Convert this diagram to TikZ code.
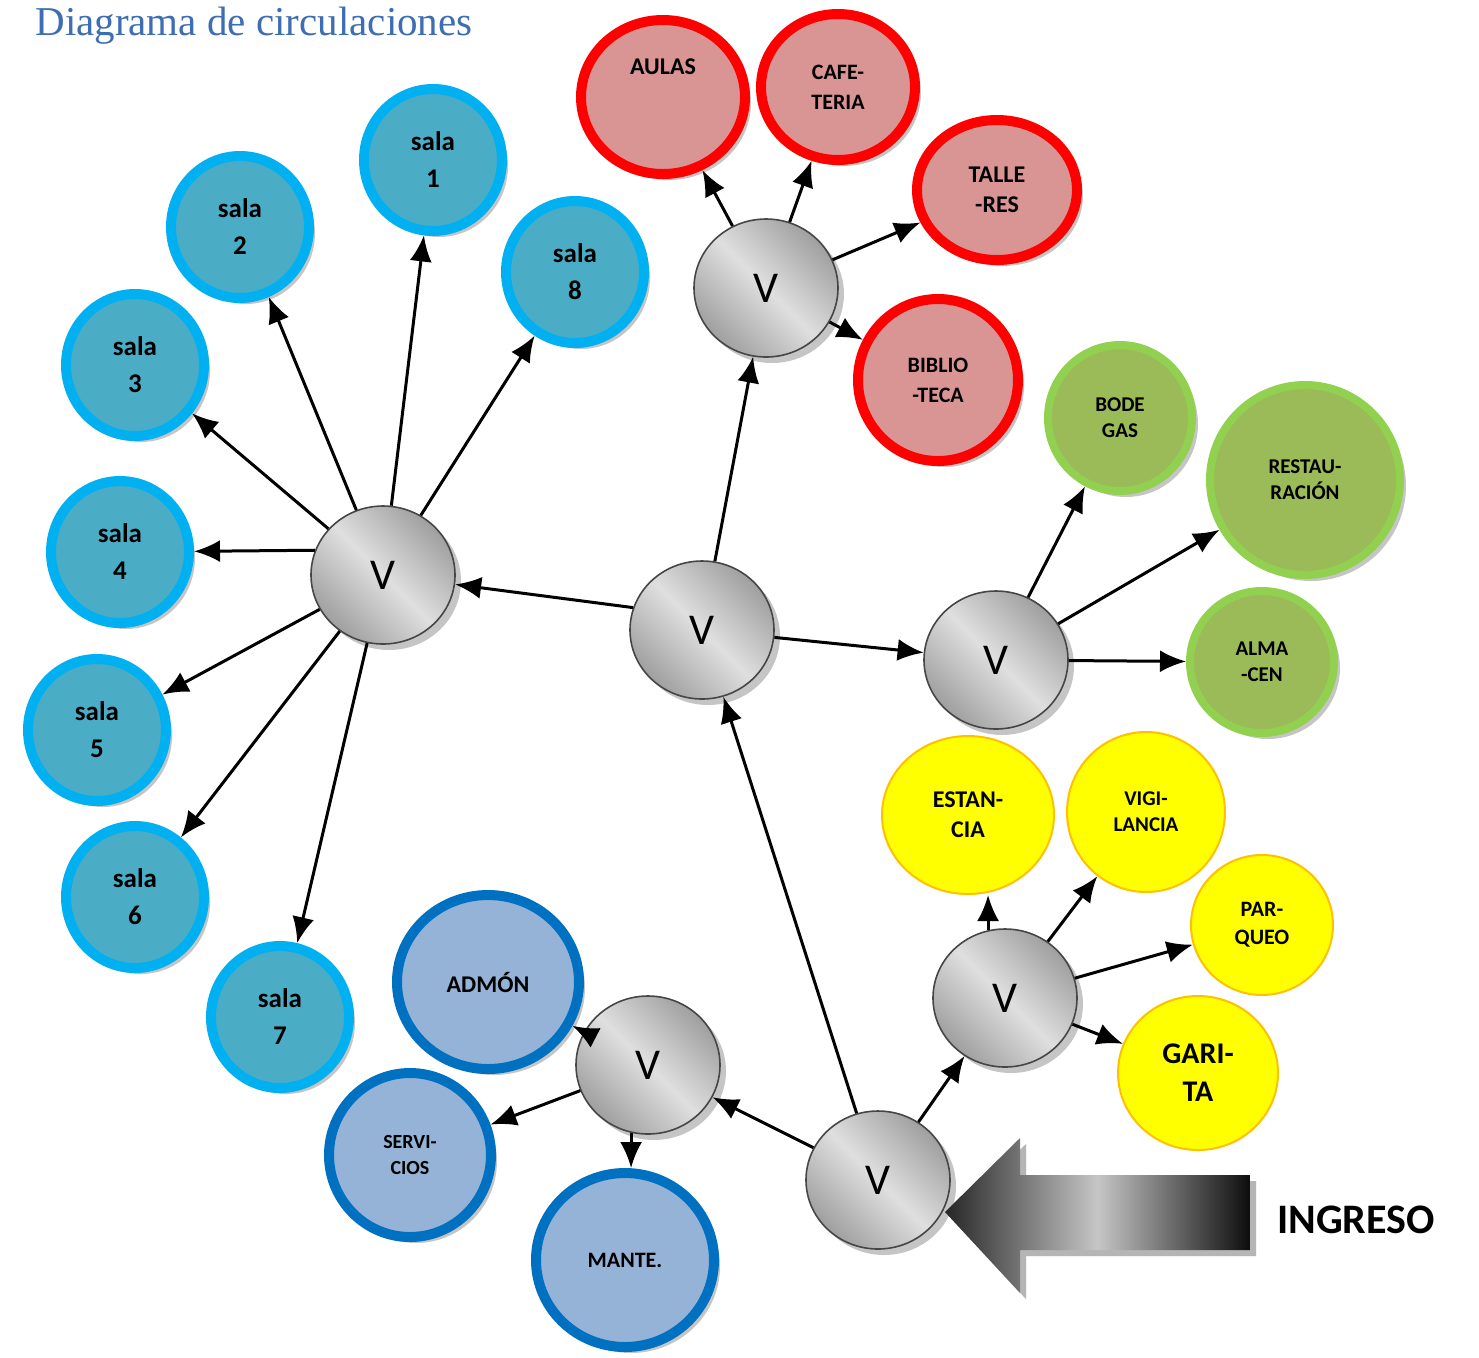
\documentclass[tikz,border=0pt]{standalone}
\usepackage{fontspec}
\setmainfont{Carlito}
\newfontfamily\titlefont{Liberation Serif}
\usetikzlibrary{arrows.meta,shapes.geometric,shadows}
\definecolor{salaFill}{HTML}{4BACC6}
\definecolor{salaLine}{HTML}{00B0F0}
\definecolor{aulaFill}{HTML}{D99594}
\definecolor{aulaLine}{HTML}{FF0000}
\definecolor{bodeFill}{HTML}{9BBB59}
\definecolor{bodeLine}{HTML}{92D050}
\definecolor{vigiFill}{HTML}{FFFF00}
\definecolor{vigiLine}{HTML}{FFC000}
\definecolor{admFill}{HTML}{95B3D7}
\definecolor{admLine}{HTML}{0070C0}
\definecolor{titleBlue}{HTML}{3D6DB3}

\begin{document}
\begin{tikzpicture}[
    x=0.5pt,y=-0.5pt,
    shade/.style={drop shadow={shadow xshift=3pt,shadow yshift=-3pt,fill=black!45}},
    hub/.style={ellipse,draw=gray!55!black,thick,
                top color=gray!75,bottom color=gray!75,middle color=gray!25,
                shading angle=-45,minimum width=72pt,minimum height=69pt,
                font=\fontsize{22}{24}\selectfont,shade},
    room/.style={ellipse,align=center,shade,
                 font=\fontsize{12}{15}\selectfont\bfseries},
    sala/.style={room,draw=salaLine,fill=salaFill,line width=5pt,
                 minimum width=69pt,minimum height=71pt,
                 font=\fontsize{13.5}{18.5}\selectfont\bfseries},
    aula/.style={room,draw=aulaLine,fill=aulaFill,line width=5pt},
    bode/.style={room,draw=bodeLine,fill=bodeFill,line width=4pt,
                 font=\fontsize{10.5}{13}\selectfont\bfseries},
    vigi/.style={ellipse,align=center,draw=vigiLine,fill=vigiFill,line width=1pt,
                 font=\fontsize{11}{14}\selectfont\bfseries},
    adm/.style={room,draw=admLine,fill=admFill,line width=5pt},
    flow/.style={-{Latex[length=13pt,width=11pt]},line width=1.5pt}
  ]
  \useasboundingbox (0,0) rectangle (1479,1357);
  %% Title
  \node[anchor=base west,text=titleBlue,inner sep=0pt,
        font=\titlefont\fontsize{20.5}{24}\selectfont] (title) at (35,35)
        {Diagrama de circulaciones};
  %% Salas
  \node[sala] (s1) at (433,160)  {sala\\1};
  \node[sala] (s2) at (240,227)  {sala\\2};
  \node[sala] (s3) at (135,365)  {sala\\3};
  \node[sala] (s4) at (120,552)  {sala\\4};
  \node[sala] (s5) at (97,730)   {sala\\5};
  \node[sala] (s6) at (135,897)  {sala\\6};
  \node[sala] (s7) at (280,1017) {sala\\7};
  \node[sala] (s8) at (575,272)  {sala\\8};
  %% Vestibulos
  \node[hub] (v1) at (383,575)  {V};
  \node[hub] (vc) at (702,630)  {V};
  \node[hub] (vt) at (766,288)  {V};
  \node[hub] (vr) at (996,660)  {V};
  \node[hub] (vy) at (1005,998) {V};
  \node[hub] (vb) at (878,1180) {V};
  \node[hub] (vl) at (648,1065) {V};
  %% Zona academica
  \node[aula,minimum width=82pt,minimum height=77pt] (aulas)  at (663,97)
        {AULAS\\\mbox{}\\\mbox{}};
  \node[aula,minimum width=77pt,minimum height=73pt,
        font=\fontsize{11}{15}\selectfont\bfseries] (cafe)   at (838,87)  {CAFE-\\TERIA};
  \node[aula,minimum width=80pt,minimum height=70pt] (taller) at (997,190) {TALLE\\-RES};
  \node[aula,minimum width=80pt,minimum height=81pt,
        font=\fontsize{11}{15}\selectfont\bfseries] (biblio) at (938,380) {BIBLIO\\-TECA};
  %% Servicios generales
  \node[bode,minimum width=72pt,minimum height=73pt] (bodegas) at (1120,418) {BODE\\GAS};
  \node[bode,minimum width=95pt,minimum height=95pt] (restau)  at (1305,480) {RESTAU-\\RACIÓN};
  \node[bode,minimum width=72pt,minimum height=71pt] (almacen) at (1262,662) {ALMA\\-CEN};
  %% Control
  \node[vigi,minimum width=86pt,minimum height=79pt,
        font=\fontsize{12}{15}\selectfont\bfseries] (estancia)   at (968,815)  {ESTAN-\\CIA};
  \node[vigi,minimum width=79pt,minimum height=80pt,
        font=\fontsize{10.5}{13}\selectfont\bfseries] (vigilancia) at (1146,812) {VIGI-\\LANCIA};
  \node[vigi,minimum width=71pt,minimum height=70pt] (parqueo)    at (1262,925) {PAR-\\QUEO};
  \node[vigi,minimum width=80pt,minimum height=77pt,
        font=\fontsize{15}{19}\selectfont\bfseries] (garita)     at (1198,1073) {GARI-\\TA};
  %% Administracion
  \node[adm,minimum width=91pt,minimum height=87pt] (admon)     at (488,982)  {ADMÓN};
  \node[adm,minimum width=81pt,minimum height=82pt,
        font=\fontsize{10}{13}\selectfont\bfseries] (servicios) at (410,1155) {SERVI-\\CIOS};
  \node[adm,minimum width=89pt,minimum height=87pt,
        font=\fontsize{11}{14}\selectfont\bfseries] (mante)     at (625,1260) {MANTE.};
  %% Ingreso
  \coordinate (tip) at (945,1212);
  \shade[left color=black!85,right color=black!95,middle color=gray!45,
         drop shadow={shadow xshift=3pt,shadow yshift=-3pt,fill=black!35}]
    (tip) -- (1020,1138) -- (1020,1175) -- (1250,1175)
    -- (1250,1250) -- (1020,1250) -- (1020,1293) -- cycle;
  \node[font=\fontsize{21}{24}\selectfont\bfseries] (ingreso) at (1356,1220) {INGRESO};
  %% Circulaciones principales
  \draw[flow] (vb) -- (vc);
  \draw[flow] (vb) -- (vl);
  \draw[flow] (vb) -- (vy);
  \draw[flow] (vc.162) -- (v1);
  \draw[flow] (vc) -- (vt);
  \draw[flow] (vc) -- (vr);
  %% Hacia las salas
  \draw[flow] (v1) -- (s1);
  \draw[flow] (v1) -- (s2);
  \draw[flow] (v1) -- (s3);
  \draw[flow] (v1.160) -- (s4);
  \draw[flow] (v1) -- (s5);
  \draw[flow] (v1) -- (s6);
  \draw[flow] (v1) -- (s7);
  \draw[flow] (v1) -- (s8);
  %% Hacia los demas ambientes
  \draw[flow] (vt) -- (aulas);
  \draw[flow] (vt) -- (cafe);
  \draw[flow] (vt) -- (taller);
  \draw[flow] (vt) -- (biblio);
  \draw[flow] (vr) -- (bodegas);
  \draw[flow] (vr) -- (restau);
  \draw[flow] (vr) -- (almacen);
  \draw[flow] (vy.104) -- (vy.104 |- estancia.south);
  \draw[flow] (vy) -- (vigilancia);
  \draw[flow] (vy) -- (parqueo);
  \draw[flow] (vy) -- (garita);
  \draw[flow] (vl) -- (admon);
  \draw[flow] (vl) -- (servicios);
  \draw[flow] (vl.256) -- (vl.256 |- mante.north);
\end{tikzpicture}
\end{document}
